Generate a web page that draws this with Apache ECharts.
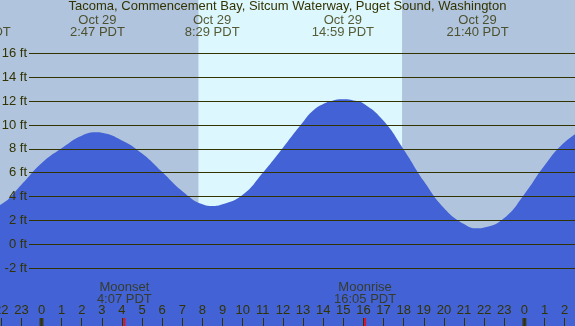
<!DOCTYPE html>
<html>
<head>
<meta charset="utf-8">
<script src="https://cdn.jsdelivr.net/npm/echarts@6/dist/echarts.min.js"></script>
<style>
html, body { margin: 0; padding: 0; }
#chart { width: 575px; height: 326px; }
</style>
</head>
<body>
<div id="chart"></div>
<script>
// hours from midnight Oct 29 (PDT), tide height in ft
var tideHours = [-3, -2, -1, 0, 1, 2, 2.78, 3, 4, 5, 6, 7, 8, 8.48, 9, 10, 11, 12, 13, 13.5, 14, 14.5, 15, 15.5, 16, 17, 18, 19, 20, 21, 21.67, 22, 23, 24, 25, 26, 27];
var tideFeet = [2.8, 3.35, 5.0, 6.8, 8.05, 9.1, 9.38, 9.35, 8.7, 7.6, 6.05, 4.45, 3.35, 3.21, 3.35, 4.15, 6.0, 8.1, 10.25, 11.2, 11.75, 12.05, 12.15, 12.05, 11.8, 10.35, 7.95, 5.3, 3.05, 1.7, 1.34, 1.4, 2.2, 4.2, 6.6, 8.55, 9.7];

var extremeHours = [-3.07, 2.78, 8.48, 14.98, 21.67];
var extremeDates = ['Oct 28', 'Oct 29', 'Oct 29', 'Oct 29', 'Oct 29'];
var extremeTimes = ['20:56 PDT', '2:47 PDT', '8:29 PDT', '14:59 PDT', '21:40 PDT'];

var moonHours = [4.117, 16.083];
var moonNames = ['Moonset', 'Moonrise'];
var moonTimes = ['4:07 PDT', '16:05 PDT'];

var sunHours = [7.8, 17.92];   // sunrise, sunset
var midnightHours = [0, 24];
var hourTicks = [];
for (var t = -2; t <= 26; t++) hourTicks.push(t);

var title = 'Tacoma, Commencement Bay, Sitcum Waterway, Puget Sound, Washington';

// layout
var W = 575, H = 326;
var PX_HR = 20.12, X0 = 41.5;          // pixel of hour 0
var PX_FT = 11.94, Y16 = 53.3;         // pixel of 16 ft
var X_MIN = -X0 / PX_HR;
var X_MAX = (W - X0) / PX_HR;
var Y_TOP = 16 + Y16 / PX_FT;
var Y_BOT = 16 - (H - Y16) / PX_FT;
function ftAt(py) { return Y_TOP - py / PX_FT; }

var txt = '#333300';
var font = 'Liberation Sans';

var dom = document.getElementById('chart');
var myChart = echarts.init(dom, null, { renderer: 'canvas' });

var tideData = tideHours.map(function (h, i) { return [h, tideFeet[i]]; });
var extremeData = extremeHours.map(function (h, i) {
    return { value: [h, ftAt(26)], label: { formatter: extremeDates[i] + '\n' + extremeTimes[i] } };
});
var moonData = moonHours.map(function (h, i) {
    return { value: [h, ftAt(293.5)], label: { formatter: moonNames[i] + '\n' + moonTimes[i] } };
});

var option = {
    backgroundColor: '#b0c4de',
    animation: false,
    textStyle: { fontFamily: font },
    title: {
        text: title,
        left: 'center',
        top: 0,
        padding: 0,
        textStyle: { fontSize: 13, fontWeight: 'normal', color: txt, fontFamily: font }
    },
    grid: [
        { left: 0, right: 0, top: 0, bottom: 0, containLabel: false, outerBoundsMode: 'none' },
        { left: 29, right: 0, top: Y16, height: 18 * PX_FT, containLabel: false, outerBoundsMode: 'none' }
    ],
    xAxis: [
        {
            type: 'value', gridIndex: 0, min: X_MIN, max: X_MAX,
            axisLine: { show: false, onZero: false },
            axisTick: { show: true, inside: true, length: 8, customValues: hourTicks, lineStyle: { color: txt, width: 1 } },
            splitLine: { show: false },
            axisLabel: {
                inside: true, margin: 9, fontSize: 13, color: txt, fontFamily: font,
                customValues: hourTicks,
                formatter: function (v) { return String(((Math.round(v) % 24) + 24) % 24); }
            },
            z: 6
        },
        { type: 'value', gridIndex: 1, min: 0, max: 1, show: false }
    ],
    yAxis: [
        { type: 'value', gridIndex: 0, min: Y_BOT, max: Y_TOP, show: false },
        {
            type: 'value', gridIndex: 1, min: -2, max: 16, interval: 2,
            axisLine: { show: false },
            axisTick: { show: false },
            splitLine: { show: true, lineStyle: { color: txt, width: 1 } },
            axisLabel: { margin: 2, fontSize: 13, color: txt, fontFamily: font, formatter: '{value} ft' },
            z: 5
        }
    ],
    series: [
        {
            name: 'day',
            type: 'line',
            xAxisIndex: 0, yAxisIndex: 0,
            data: [],
            z: 1,
            markArea: {
                silent: true,
                itemStyle: { color: '#ddf7ff' },
                data: [[{ xAxis: sunHours[0] }, { xAxis: sunHours[1] }]]
            }
        },
        {
            name: 'tide',
            type: 'line',
            xAxisIndex: 0, yAxisIndex: 0,
            data: tideData,
            smooth: 0.5,
            symbol: 'none',
            lineStyle: { width: 0 },
            areaStyle: { color: '#4262d6', opacity: 1, origin: 'start' },
            z: 3
        },
        {
            name: 'extremes',
            type: 'scatter',
            xAxisIndex: 0, yAxisIndex: 0,
            data: extremeData,
            symbolSize: 0,
            clip: false,
            label: { show: true, position: 'inside', fontSize: 13, lineHeight: 12, color: txt, fontFamily: font },
            z: 7
        },
        {
            name: 'moon',
            type: 'scatter',
            xAxisIndex: 0, yAxisIndex: 0,
            data: moonData,
            symbolSize: 0,
            clip: false,
            label: { show: true, position: 'inside', fontSize: 13, lineHeight: 12, color: txt, fontFamily: font },
            z: 7
        },
        {
            name: 'moonTicks',
            type: 'scatter',
            xAxisIndex: 0, yAxisIndex: 0,
            data: moonHours.map(function (h) { return [h, Y_BOT]; }),
            symbol: 'rect',
            symbolSize: [2, 8],
            symbolOffset: [0, -4],
            itemStyle: { color: '#ff0000' },
            z: 8
        },
        {
            name: 'midnight',
            type: 'scatter',
            xAxisIndex: 0, yAxisIndex: 0,
            data: midnightHours.map(function (h) { return [h, Y_BOT]; }),
            symbol: 'rect',
            symbolSize: [4, 8],
            symbolOffset: [0, -4],
            itemStyle: { color: txt },
            z: 8
        }
    ]
};

myChart.setOption(option);
</script>
</body>
</html>
